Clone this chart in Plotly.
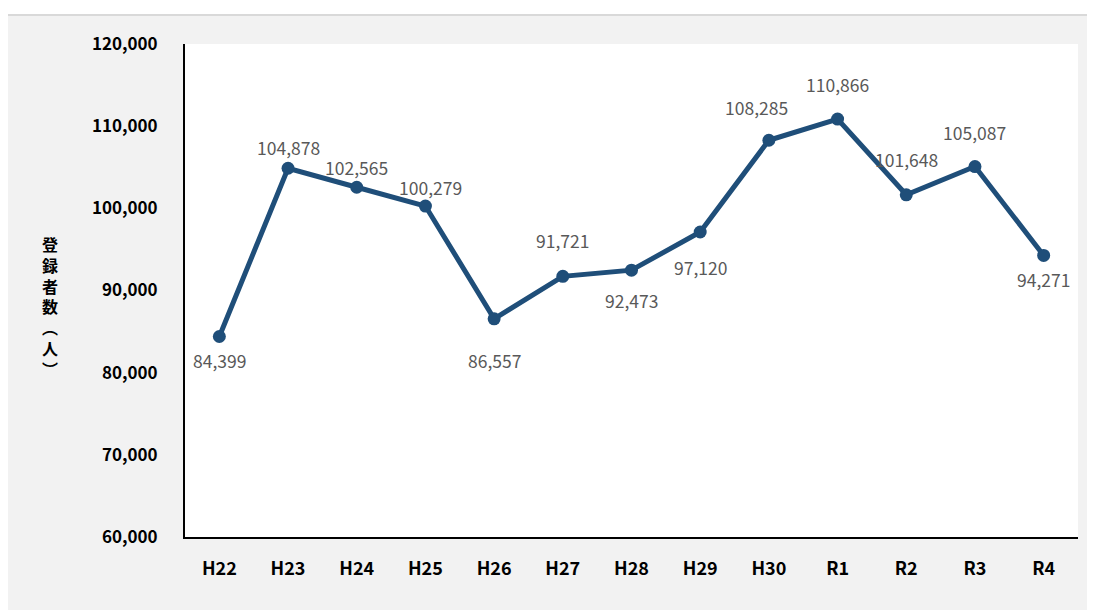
import plotly.graph_objects as go

years = ["H22", "H23", "H24", "H25", "H26", "H27", "H28", "H29", "H30", "R1", "R2", "R3", "R4"]
registrants = [84399, 104878, 102565, 100279, 86557, 91721, 92473, 97120, 108285, 110866, 101648, 105087, 94271]

# label offsets (px) from each point, as placed in the original chart
label_dx = [0, 0, 0, 5, 0, 0, 0, 0, -12, 0, 0, 0, 0]
label_dy = [-24, 21, 20, 19, -42, 36, -30, -35, 33, 35, 35, 34, -24]

# page has an 8px body margin, so the figure is drawn 8px in
OFF = 8
W, H = 1087, 602
L, R, T, B = 177, 17, 36, 73
pw, ph = W - L - R, H - T - B


def px_x(v):
    return (v - OFF - L) / pw


def px_y(v):
    return (H - B - (v - OFF)) / ph


fig = go.Figure()
fig.add_trace(go.Scatter(
    x=years,
    y=registrants,
    mode="lines+markers",
    line=dict(color="#1f4e79", width=5),
    marker=dict(size=13, color="#1f4e79"),
    cliponaxis=False,
))

for yr, v, dx, dy in zip(years, registrants, label_dx, label_dy):
    fig.add_annotation(
        x=yr, y=v, text=f"{v:,}", showarrow=False,
        xshift=dx, yshift=dy,
        font=dict(family="Noto Sans CJK JP", size=17.5, color="#595959"),
    )

# grey outer panel and white plot area
fig.add_shape(type="rect", xref="paper", yref="paper", layer="below",
              x0=px_x(7), x1=px_x(1120), y0=px_y(640), y1=px_y(15),
              fillcolor="#f2f2f2", line=dict(color="#d9d9d9", width=2))
fig.add_shape(type="rect", xref="paper", yref="paper", layer="below",
              x0=0, x1=1, y0=0, y1=1, fillcolor="white", line=dict(width=0))

# vertical axis title, stacked characters
fig.add_annotation(
    xref="paper", yref="paper", x=px_x(50), y=px_y(306),
    xanchor="center", yanchor="middle",
    text="<br>".join("登録者数︵人︶"), showarrow=False,
    font=dict(family="Noto Sans CJK JP", size=16, color="black", weight="bold"),
)

fig.update_layout(
    width=W, height=H,
    margin=dict(l=L, r=R, t=T, b=B),
    paper_bgcolor="white",
    plot_bgcolor="rgba(0,0,0,0)",
    showlegend=False,
    font=dict(family="Noto Sans CJK JP", color="black"),
)
fig.update_xaxes(
    type="category", range=[-0.5, 12.5],
    showline=True, linecolor="black", linewidth=2,
    showgrid=False, zeroline=False, ticks="",
    tickfont=dict(size=18, weight="bold"),
    ticklabelstandoff=14,
)
fig.update_yaxes(
    range=[60000, 120000], dtick=10000, tickformat=",",
    showline=True, linecolor="black", linewidth=2,
    showgrid=False, zeroline=False, ticks="",
    tickfont=dict(size=17, weight="bold"),
    ticklabelstandoff=22,
)

fig.write_html("out.html")
